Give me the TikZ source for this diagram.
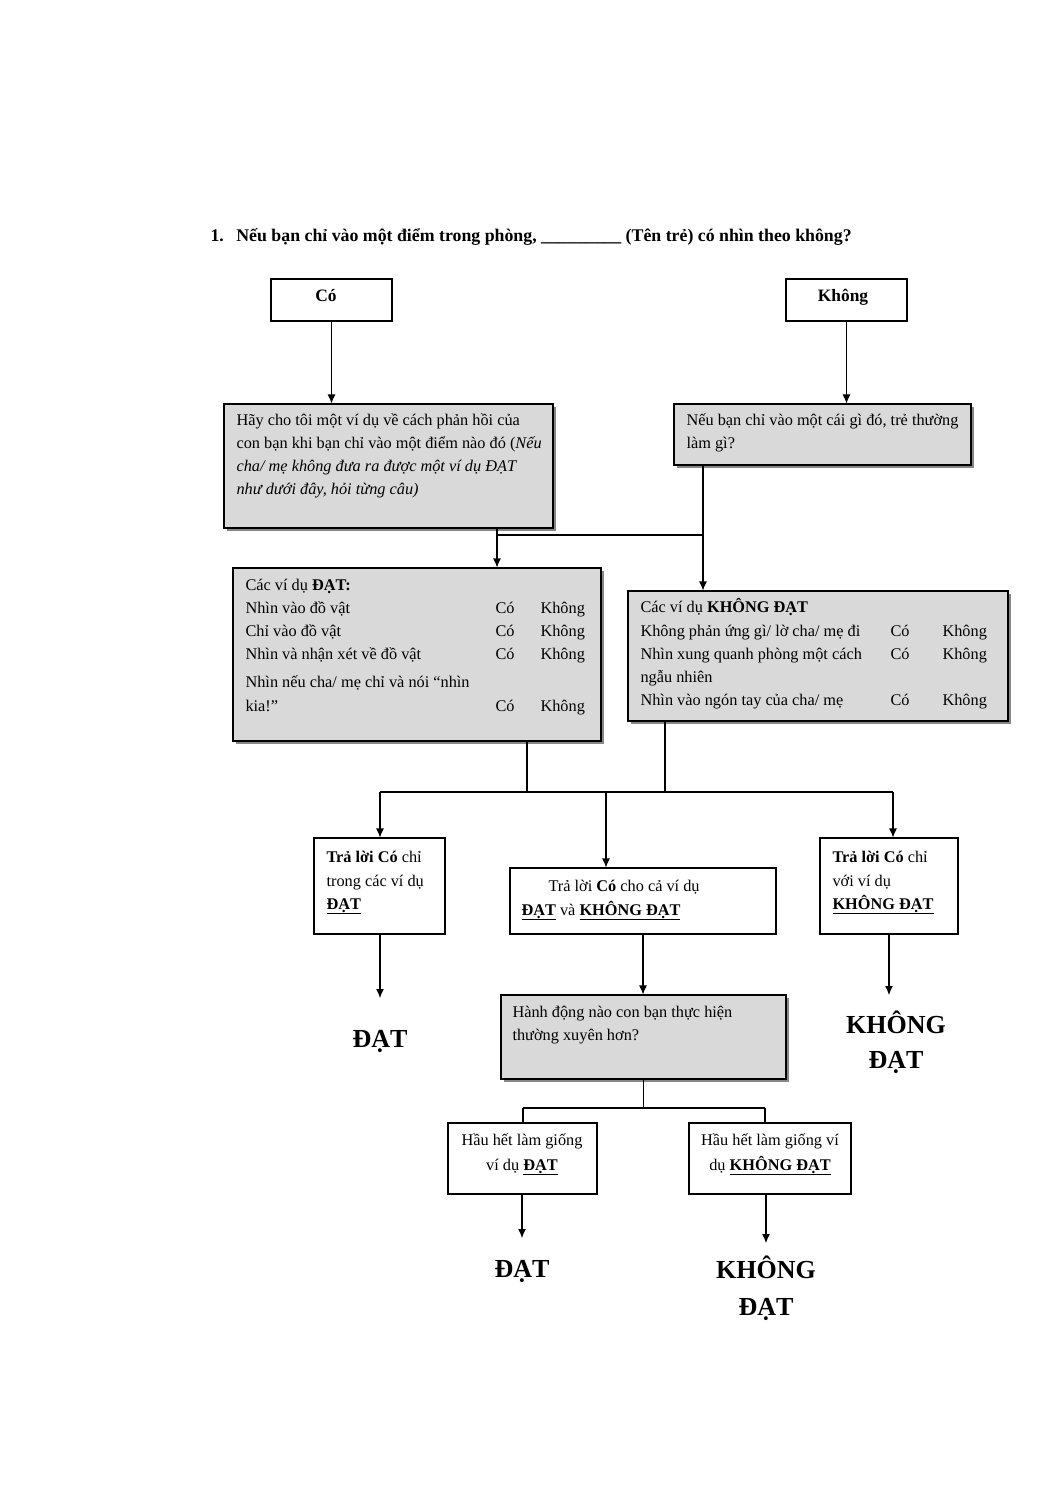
\documentclass[tikz,border=0pt]{standalone}
\usepackage{fontspec}
\setmainfont{Liberation Serif}
\usetikzlibrary{arrows.meta,shadows}
\definecolor{boxgrey}{RGB}{217,217,217}
\definecolor{shadowgrey}{RGB}{135,135,135}
\begin{document}
\begin{tikzpicture}[x=1pt,y=-1pt,
  line width=1.1pt,
  wbox/.style={draw, line width=1.1pt, fill=white, inner sep=0pt},
  gbox/.style={draw, line width=1.1pt, fill=boxgrey, inner sep=0pt,
    general shadow={fill=shadowgrey, shadow xshift=2.5pt, shadow yshift=-2.5pt}},
  txt/.style={inner sep=0pt, font=\fontsize{16.3}{23}\selectfont, anchor=base west},
  ctxt/.style={inner sep=0pt, font=\fontsize{16.3}{23}\selectfont, anchor=base},
  big/.style={inner sep=0pt, font=\fontsize{26}{30}\selectfont\bfseries, anchor=base},
  arr/.style={-{Latex[length=9pt,width=8pt]}},
]
\useasboundingbox (0,0) rectangle (1060,1500);

% title
\node[inner sep=0pt, anchor=base west, font=\fontsize{17.8}{20}\selectfont\bfseries] (title) at (210,241)
  {1.\hspace{12.5pt}Nếu bạn chỉ vào một điểm trong phòng, \_\_\_\_\_\_\_\_\_ (Tên trẻ) có nhìn theo không?};

% boxes
\node[wbox, minimum width=121pt, minimum height=42pt] (co) at (331.5,300) {};
\node[wbox, minimum width=121pt, minimum height=42pt] (khong) at (846.5,300) {};
\node[gbox, minimum width=329pt, minimum height=124pt] (g1) at (388.5,466) {};
\node[gbox, minimum width=297pt, minimum height=61pt] (g2) at (822.5,434.5) {};
\node[gbox, minimum width=368pt, minimum height=173pt] (g3) at (417,654.5) {};
\node[gbox, minimum width=380pt, minimum height=130pt] (g4) at (818,656) {};
\node[wbox, minimum width=131pt, minimum height=96pt] (b5) at (379.5,886) {};
\node[wbox, minimum width=266pt, minimum height=66pt] (b6) at (643,901) {};
\node[wbox, minimum width=138pt, minimum height=96pt] (b7) at (889,886) {};
\node[gbox, minimum width=285pt, minimum height=84pt] (g8) at (643.5,1037) {};
\node[wbox, minimum width=149pt, minimum height=71pt] (b9) at (522.5,1158.5) {};
\node[wbox, minimum width=162pt, minimum height=71pt] (b10) at (770,1158.5) {};

% box texts
\node[ctxt, font=\fontsize{17.4}{20}\selectfont\bfseries] (tco) at (326,301) {Có};
\node[ctxt, font=\fontsize{17.4}{20}\selectfont\bfseries] (tkhong) at (843,301) {Không};

\node[txt] (g1a) at (236,425) {Hãy cho tôi một ví dụ về cách phản hồi của};
\node[txt] (g1b) at (236,448) {con bạn khi bạn chỉ vào một điểm nào đó (\textit{Nếu}};
\node[txt] (g1c) at (236,471) {\textit{cha/ mẹ không đưa ra được một ví dụ ĐẠT}};
\node[txt] (g1d) at (236,494) {\textit{như dưới đây, hỏi từng câu)}};

\node[txt] (g2a) at (686,425) {Nếu bạn chỉ vào một cái gì đó, trẻ thường};
\node[txt] (g2b) at (686,448) {làm gì?};

\node[txt] (g3a) at (245,590) {Các ví dụ \textbf{ĐẠT:}};
\node[txt] (g3b) at (245,613) {Nhìn vào đồ vật};
\node[txt] (g3c) at (245,636) {Chỉ vào đồ vật};
\node[txt] (g3d) at (245,659) {Nhìn và nhận xét về đồ vật};
\node[txt] (g3e) at (245,687) {Nhìn nếu cha/ mẹ chỉ và nói “nhìn};
\node[txt] (g3f) at (245,711) {kia!”};
\node[txt] (g3b1) at (495,613) {Có};
\node[txt] (g3b2) at (540,613) {Không};
\node[txt] (g3c1) at (495,636) {Có};
\node[txt] (g3c2) at (540,636) {Không};
\node[txt] (g3d1) at (495,659) {Có};
\node[txt] (g3d2) at (540,659) {Không};
\node[txt] (g3f1) at (495,711) {Có};
\node[txt] (g3f2) at (540,711) {Không};

\node[txt] (g4a) at (640,612) {Các ví dụ \textbf{KHÔNG ĐẠT}};
\node[txt] (g4b) at (640,636) {Không phản ứng gì/ lờ cha/ mẹ đi};
\node[txt] (g4c) at (640,659) {Nhìn xung quanh phòng một cách};
\node[txt] (g4d) at (640,682) {ngẫu nhiên};
\node[txt] (g4e) at (640,705) {Nhìn vào ngón tay của cha/ mẹ};
\node[txt] (g4b1) at (890,636) {Có};
\node[txt] (g4b2) at (942,636) {Không};
\node[txt] (g4c1) at (890,659) {Có};
\node[txt] (g4c2) at (942,659) {Không};
\node[txt] (g4e1) at (890,705) {Có};
\node[txt] (g4e2) at (942,705) {Không};

\node[txt] (b5a) at (326,862) {\textbf{Trả lời Có} chỉ};
\node[txt] (b5b) at (326,886) {trong các ví dụ};
\node[txt] (b5c) at (326,909) {\underline{\textbf{ĐẠT}}};

\node[txt] (b6a) at (548,891) {Trả lời \textbf{Có} cho cả ví dụ};
\node[txt] (b6b) at (521,915) {\underline{\textbf{ĐẠT}} và \underline{\textbf{KHÔNG ĐẠT}}};

\node[txt] (b7a) at (832,862) {\textbf{Trả lời Có} chỉ};
\node[txt] (b7b) at (832,886) {với ví dụ};
\node[txt] (b7c) at (832,909) {\underline{\textbf{KHÔNG ĐẠT}}};

\node[txt] (g8a) at (512,1017) {Hành động nào con bạn thực hiện};
\node[txt] (g8b) at (512,1040) {thường xuyên hơn?};

\node[ctxt] (b9a) at (522,1145) {Hầu hết làm giống};
\node[ctxt] (b9b) at (522,1170) {ví dụ \underline{\textbf{ĐẠT}}};
\node[ctxt] (b10a) at (770,1145) {Hầu hết làm giống ví};
\node[ctxt] (b10b) at (770,1170) {dụ \underline{\textbf{KHÔNG ĐẠT}}};

% outcomes
\node[big] (r1) at (380,1047) {ĐẠT};
\node[big] (r2a) at (896,1033) {KHÔNG};
\node[big] (r2b) at (896,1068) {ĐẠT};
\node[big] (r3) at (522,1277) {ĐẠT};
\node[big] (r4a) at (766,1278) {KHÔNG};
\node[big] (r4b) at (766,1315) {ĐẠT};

% junction coordinates
\coordinate (j1) at (497,535);
\coordinate (j2) at (703,535);
\coordinate (j3) at (527,792);
\coordinate (j4) at (665,792);
\coordinate (jl) at (380,792);
\coordinate (jm) at (606,792);
\coordinate (jr) at (893,792);
\coordinate (j5) at (643.5,1108);
\coordinate (jl2) at (523,1108);
\coordinate (jr2) at (765,1108);
\coordinate (a1) at (380,998);
\coordinate (a2) at (889,995);
\coordinate (a3) at (522,1238);
\coordinate (a4) at (766,1243);

% connectors
\draw[arr] (co.south) -- (co.south |- g1.north);
\draw[arr] (khong.south) -- (khong.south |- g2.north);
\draw (g1.south -| j1) -- (j1);
\draw (j1) -- (j2);
\draw[arr] (j1) -- (j1 |- g3.north);
\draw[arr] (g2.south -| j2) -- (j2 |- g4.north);
\draw (g3.south -| j3) -- (j3);
\draw (g4.south -| j4) -- (j4);
\draw (jl) -- (jr);
\draw[arr] (jl) -- (jl |- b5.north);
\draw[arr] (jm) -- (jm |- b6.north);
\draw[arr] (jr) -- (jr |- b7.north);
\draw[arr] (b5.south -| a1) -- (a1);
\draw[arr] (b6.south) -- (g8.north -| b6.south);
\draw[arr] (b7.south) -- (a2);
\draw (g8.south) -- (j5);
\draw (jl2) -- (jr2);
\draw (jl2) -- (jl2 |- b9.north);
\draw (jr2) -- (jr2 |- b10.north);
\draw[arr] (b9.south -| a3) -- (a3);
\draw[arr] (b10.south -| a4) -- (a4);
\end{tikzpicture}
\end{document}
